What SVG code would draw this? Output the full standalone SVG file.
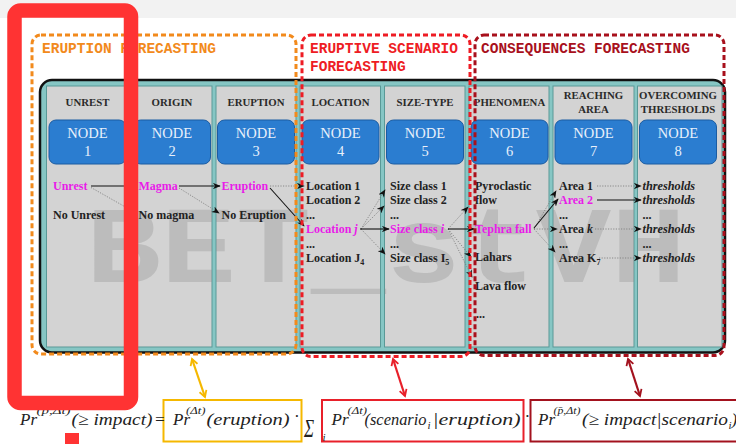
<svg xmlns="http://www.w3.org/2000/svg" width="736" height="444" viewBox="0 0 736 444">
<defs>
<style>
.col{fill:#d3d3d3;stroke:#5a9997;stroke-width:1}
.hd{font-family:'Liberation Serif','DejaVu Serif',serif;font-weight:bold;font-size:10.8px;fill:#2a2a2a;text-anchor:middle}
.nb{fill:#2b7dd0;stroke:#1b5ca2;stroke-width:1}
.nt{font-family:'Liberation Serif','DejaVu Serif',serif;font-size:14.5px;fill:#e8f0fb;text-anchor:middle}
.t{font-family:'Liberation Serif','DejaVu Serif',serif;font-weight:bold;font-size:12px;fill:#222}
.m{fill:#e81ce8}
.it{font-style:italic}
.th{font-family:'Liberation Serif','DejaVu Serif',serif;font-style:italic;font-weight:bold;font-size:12.3px;fill:#222}
.sub{font-size:8px}
.sol{stroke:#111;stroke-width:1.1;fill:none;marker-end:url(#ah)}
.dot{stroke:#777;stroke-width:0.8;stroke-dasharray:1.2 1.4;fill:none;marker-end:url(#ah)}
.grp{fill:none;stroke-width:3;stroke-dasharray:5 3}
.gl{font-family:'Liberation Mono','DejaVu Sans Mono',monospace;font-weight:bold;font-size:14.5px}
.f{font-family:'Liberation Serif','DejaVu Serif',serif;font-style:italic;font-size:17px;fill:#222}
.fs{font-family:'Liberation Serif','DejaVu Serif',serif;font-style:italic;font-size:11px;fill:#222}
.wm{font-family:'Liberation Mono','DejaVu Sans Mono',monospace;font-weight:bold;font-size:110px;fill:#8c8c8c;fill-opacity:0.32}
</style>
<marker id="ah" viewBox="0 0 10 8" refX="9" refY="4" markerWidth="8" markerHeight="6.4" markerUnits="userSpaceOnUse" orient="auto">
<path d="M0,0 L10,4 L0,8 L3,4 z" fill="#111"/>
</marker>
<marker id="ay" viewBox="0 0 10 10" refX="8" refY="5" markerWidth="9" markerHeight="9" markerUnits="userSpaceOnUse" orient="auto-start-reverse">
<path d="M1,1 L8,5 L1,9" fill="none" stroke="#f5b800" stroke-width="2"/>
</marker>
<marker id="ar" viewBox="0 0 10 10" refX="8" refY="5" markerWidth="9" markerHeight="9" markerUnits="userSpaceOnUse" orient="auto-start-reverse">
<path d="M1,1 L8,5 L1,9" fill="none" stroke="#e8202a" stroke-width="2"/>
</marker>
<marker id="ad" viewBox="0 0 10 10" refX="8" refY="5" markerWidth="9" markerHeight="9" markerUnits="userSpaceOnUse" orient="auto-start-reverse">
<path d="M1,1 L8,5 L1,9" fill="none" stroke="#a3121e" stroke-width="2"/>
</marker>
<clipPath id="colclip">
<rect x="46.5" y="86" width="81.5" height="261"/>
<rect x="132" y="86" width="80" height="261"/>
<rect x="216" y="86" width="80" height="261"/>
<rect x="300" y="86" width="80.5" height="261"/>
<rect x="384.5" y="86" width="80.5" height="261"/>
<rect x="469" y="86" width="80" height="261"/>
<rect x="553" y="86" width="81" height="261"/>
<rect x="637.5" y="86" width="84.5" height="261"/>
</clipPath>
</defs>

<rect x="0" y="0" width="736" height="444" fill="#ffffff"/>
<rect x="0" y="0" width="736" height="18" fill="#f2f2f2"/>

<g id="panel">
<rect x="40" y="80" width="685" height="272.5" rx="12" fill="#86c6c4" stroke="#111" stroke-width="2.5"/>
<rect class="col" x="46.5" y="86" width="81.5" height="261"/>
<rect class="col" x="132" y="86" width="80" height="261"/>
<rect class="col" x="216" y="86" width="80" height="261"/>
<rect class="col" x="300" y="86" width="80.5" height="261"/>
<rect class="col" x="384.5" y="86" width="80.5" height="261"/>
<rect class="col" x="469" y="86" width="80" height="261"/>
<rect class="col" x="553" y="86" width="81" height="261"/>
<rect class="col" x="637.5" y="86" width="84.5" height="261"/>
</g>

<g id="watermark" clip-path="url(#colclip)">
<text class="wm" x="86" y="282" textLength="600" lengthAdjust="spacingAndGlyphs">BET_stVH</text>
</g>

<g id="node1">
<text class="hd" x="87.5" y="106">UNREST</text>
<rect class="nb" x="49" y="120" width="77" height="44" rx="7"/>
<text class="nt" x="87.5" y="138">NODE</text>
<text class="nt" x="87.5" y="156">1</text>
<text class="t m" x="53" y="189.5">Unrest</text>
<text class="t" x="53" y="218.5">No Unrest</text>
</g>
<g id="node2">
<text class="hd" x="172" y="106">ORIGIN</text>
<rect class="nb" x="133.5" y="120" width="77" height="44" rx="7"/>
<text class="nt" x="172" y="138">NODE</text>
<text class="nt" x="172" y="156">2</text>
<text class="t m" x="138.5" y="189.5">Magma</text>
<text class="t" x="138.5" y="218.5">No magma</text>
</g>
<g id="node3">
<text class="hd" x="256" y="106">ERUPTION</text>
<rect class="nb" x="217.5" y="120" width="77" height="44" rx="7"/>
<text class="nt" x="256" y="138">NODE</text>
<text class="nt" x="256" y="156">3</text>
<text class="t m" x="221.5" y="189.5">Eruption</text>
<text class="t" x="221.5" y="218.5">No Eruption</text>
</g>
<g id="node4">
<text class="hd" x="340.5" y="106">LOCATION</text>
<rect class="nb" x="302" y="120" width="77" height="44" rx="7"/>
<text class="nt" x="340.5" y="138">NODE</text>
<text class="nt" x="340.5" y="156">4</text>
<text class="t" x="306" y="189.5">Location 1</text>
<text class="t" x="306" y="204">Location 2</text>
<text class="t" x="306" y="218.5">...</text>
<text class="t m" x="306" y="233">Location <tspan class="it">j</tspan></text>
<text class="t" x="306" y="247.5">...</text>
<text class="t" x="306" y="262">Location J<tspan class="sub" dy="2.5">4</tspan></text>
</g>
<g id="node5">
<text class="hd" x="425" y="106">SIZE-TYPE</text>
<rect class="nb" x="386.5" y="120" width="77" height="44" rx="7"/>
<text class="nt" x="425" y="138">NODE</text>
<text class="nt" x="425" y="156">5</text>
<text class="t" x="390" y="189.5">Size class 1</text>
<text class="t" x="390" y="204">Size class 2</text>
<text class="t" x="390" y="218.5">...</text>
<text class="t m" x="390" y="233">Size class <tspan class="it">i</tspan></text>
<text class="t" x="390" y="247.5">...</text>
<text class="t" x="390" y="262">Size class I<tspan class="sub" dy="2.5">5</tspan></text>
</g>
<g id="node6">
<text class="hd" x="509.5" y="106">PHENOMENA</text>
<rect class="nb" x="471" y="120" width="77" height="44" rx="7"/>
<text class="nt" x="509.5" y="138">NODE</text>
<text class="nt" x="509.5" y="156">6</text>
<text class="t" x="475" y="189.5">Pyroclastic</text>
<text class="t" x="475" y="203.5">flow</text>
<text class="t m" x="475" y="233">Tephra fall</text>
<text class="t" x="475" y="261">Lahars</text>
<text class="t" x="475" y="289.5">Lava flow</text>
<text class="t" x="476" y="318">...</text>
</g>
<g id="node7">
<text class="hd" x="593.5" y="99">REACHING</text>
<text class="hd" x="593.5" y="113">AREA</text>
<rect class="nb" x="555" y="120" width="77" height="44" rx="7"/>
<text class="nt" x="593.5" y="138">NODE</text>
<text class="nt" x="593.5" y="156">7</text>
<text class="t" x="559" y="189.5">Area 1</text>
<text class="t m" x="559" y="204">Area 2</text>
<text class="t" x="559" y="218.5">...</text>
<text class="t" x="559" y="233">Area <tspan class="it">k</tspan></text>
<text class="t" x="559" y="247.5">...</text>
<text class="t" x="559" y="262">Area K<tspan class="sub" dy="2.5">7</tspan></text>
</g>
<g id="node8">
<text class="hd" x="678" y="99">OVERCOMING</text>
<text class="hd" x="678" y="113">THRESHOLDS</text>
<rect class="nb" x="639.5" y="120" width="77" height="44" rx="7"/>
<text class="nt" x="678" y="138">NODE</text>
<text class="nt" x="678" y="156">8</text>
<text class="th" x="642.5" y="189.5">thresholds</text>
<text class="th m" x="642.5" y="204">thresholds</text>
<text class="t" x="642.5" y="218.5">...</text>
<text class="th" x="642.5" y="233">thresholds</text>
<text class="t" x="642.5" y="247.5">...</text>
<text class="th" x="642.5" y="262">thresholds</text>
</g>

<g id="connectors">
<path class="dot" d="M91,187.5 L136,213"/>
<path class="dot" d="M179,188 L219,213"/>
<path class="dot" d="M270,186 L304,186"/>
<path class="dot" d="M361,229 L385,190"/>
<path class="dot" d="M361,229 L384,206"/>
<path class="dot" d="M361,229 L385,254"/>
<path class="dot" d="M448,229 L468,207"/>
<path class="dot" d="M448,229 L471,257"/>
<path class="dot" d="M448,229 L472,277"/>
<path class="dot" d="M534,229 L556,191"/>
<path class="dot" d="M534,229 L557,229"/>
<path class="dot" d="M534,229 L555,252"/>
<path class="dot" d="M597,186 L641,186"/>
<path class="dot" d="M595,229 L641,229"/>
<path class="dot" d="M599,258 L641,258"/>
<path class="sol" d="M91,186 L137,186"/>
<path class="sol" d="M179,186 L220,186"/>
<path class="sol" d="M270,188 L304,226"/>
<path class="sol" d="M360,229 L389,229"/>
<path class="sol" d="M448,229 L474,229"/>
<path class="sol" d="M534,228 L558,199"/>
<path class="sol" d="M597,200 L641,200"/>
<path d="M192,359 L205,397" stroke="#f5b800" stroke-width="2.2" fill="none" marker-start="url(#ay)" marker-end="url(#ay)"/>
<path d="M393,359 L405,396" stroke="#e8202a" stroke-width="2.2" fill="none" marker-start="url(#ar)" marker-end="url(#ar)"/>
<path d="M628,359 L640,396" stroke="#a3121e" stroke-width="2.2" fill="none" marker-start="url(#ad)" marker-end="url(#ad)"/>
</g>

<g id="group-eruption">
<rect class="grp" x="32" y="35" width="264" height="319" rx="9" stroke="#f28a1c"/>
<text class="gl" x="42" y="52.5" fill="#f28a1c">ERUPTION FORECASTING</text>
</g>
<g id="group-scenario">
<rect class="grp" x="302" y="35" width="168" height="321.5" rx="9" stroke="#ee1c24"/>
<text class="gl" x="310" y="52.5" fill="#ee1c24">ERUPTIVE SCENARIO</text>
<text class="gl" x="310" y="70.5" fill="#ee1c24">FORECASTING</text>
</g>
<g id="group-consequences">
<rect class="grp" x="475" y="35" width="249" height="320.5" rx="9" stroke="#a8101c"/>
<text class="gl" x="481" y="52.5" fill="#a8101c">CONSEQUENCES FORECASTING</text>
</g>

<g id="formula">
<rect x="163.5" y="400" width="138" height="41.5" fill="none" stroke="#f5b800" stroke-width="2"/>
<rect x="322" y="400" width="201.5" height="41.5" fill="none" stroke="#e8202a" stroke-width="2"/>
<rect x="530.5" y="400" width="215" height="41.5" fill="none" stroke="#a3121e" stroke-width="2"/>
<text class="f" x="20" y="424.5">Pr</text>
<text class="fs" x="36.5" y="414" textLength="34" lengthAdjust="spacingAndGlyphs">(p,Δt)</text>
<text class="f" x="71.5" y="424.5" textLength="81" lengthAdjust="spacingAndGlyphs">(≥ impact)</text>
<text class="f" x="154" y="424.5" font-style="normal">=</text>
<text class="f" x="173" y="424.5">Pr</text>
<text class="fs" x="186" y="414" textLength="19.5" lengthAdjust="spacingAndGlyphs">(Δt)</text>
<text class="f" x="206.5" y="424.5" textLength="83" lengthAdjust="spacingAndGlyphs">(eruption)</text>
<text class="f" x="296.5" y="422" font-style="normal" text-anchor="middle">·</text>
<text class="f" transform="translate(304,437) scale(1,1.5)" font-style="normal" font-size="29">Σ</text>
<text class="fs" x="322.5" y="441">i</text>
<text class="f" x="331.5" y="424.5">Pr</text>
<text class="fs" x="347.5" y="414" textLength="19.5" lengthAdjust="spacingAndGlyphs">(Δt)</text>
<text class="f" x="364.5" y="424.5" textLength="62" lengthAdjust="spacingAndGlyphs">(scenario</text>
<text class="fs" x="427.5" y="428.5">i</text>
<text class="f" x="432.5" y="424.5" textLength="88" lengthAdjust="spacingAndGlyphs">|eruption)</text>
<text class="f" x="527" y="422" font-style="normal" text-anchor="middle">·</text>
<text class="f" x="538" y="424.5">Pr</text>
<text class="fs" x="553.5" y="414" textLength="27" lengthAdjust="spacingAndGlyphs">(p̄,Δt)</text>
<text class="f" x="582" y="424.5" textLength="146" lengthAdjust="spacingAndGlyphs">(≥ impact|scenario</text>
<text class="fs" x="728.5" y="428.5">i</text>
<text class="f" x="731.5" y="424.5">)</text>
</g>

<g id="annotation">
<rect x="14.5" y="10.5" width="116.5" height="392.5" rx="6" fill="none" stroke="#ff3333" stroke-width="14.5"/>
<rect x="65" y="433" width="14" height="11" fill="#ff3333"/>
</g>
</svg>
